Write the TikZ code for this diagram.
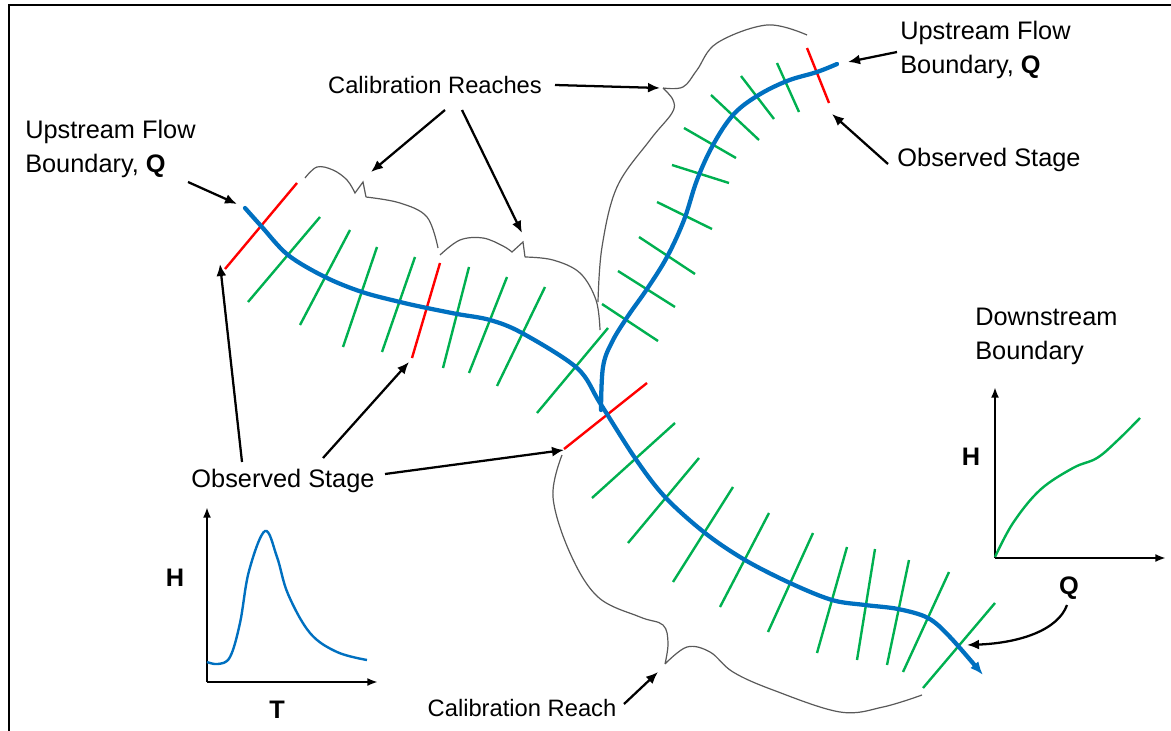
\documentclass[tikz,border=0pt]{standalone}
\usepackage{fontspec}
\setmainfont{Liberation Sans}
\usetikzlibrary{arrows.meta}
\definecolor{riv}{HTML}{0070C0}
\definecolor{grn}{HTML}{00B050}
\definecolor{rd}{HTML}{FF0000}
\definecolor{brc}{HTML}{595959}
\begin{document}
\begin{tikzpicture}[x=0.75pt,y=-0.75pt,
 lbl/.style={font=\fontsize{19}{25.5}\selectfont, inner sep=0pt, align=left},
 cal/.style={lbl, font=\fontsize{17.8}{25.5}\selectfont},
 axlbl/.style={font=\fontsize{19}{22}\selectfont\bfseries, inner sep=0pt},
 river/.style={draw=riv, line width=3.2pt, line cap=round},
 xs/.style={draw=grn, line width=1.8pt},
 obs/.style={draw=rd, line width=1.8pt},
 brace/.style={draw=brc, line width=0.9pt},
 ptr/.style={draw=black, line width=1.7pt, -{Latex[length=9pt,width=7.5pt]}},
 axis/.style={draw=black, line width=1.6pt, -{Latex[length=8pt,width=6pt]}},
]
\useasboundingbox (0,0) rectangle (1171,731);
\draw[line width=1.2pt] (9,731) -- (9,5) -- (1171,5);

% cross sections (green)
\foreach \a/\b/\c/\d in {
 248/302/320/217, 300/325/350/230, 343/347/377/247, 382/352/415/257,
 443/368/469/267, 469/373/507/277, 497/386/545/287, 537/413/608/328,
 592/498/675/423, 628/543/699/458, 673/582/733/487, 720/607/769/513,
 768/632/813/533, 817/653/847/547, 857/660/875/549, 887/665/909/560,
 903/672/949/572, 923/688/995/603,
 602/304/658/341, 618/271/675/307, 639/237/695/274, 657/202/712/229,
 672/165/729/183, 684/128/736/158, 711/95/759/140, 741/76/774/119,
 777/63/799/112}
 \draw[xs] (\a,\b) -- (\c,\d);

% observed stage (red)
\draw[obs] (225,269) -- (297,183);
\draw[obs] (412,358) -- (440,263);
\draw[obs] (564,449) -- (647,383);
\draw[obs] (807,48) -- (829,103);

% rivers
\draw[river] plot[smooth,tension=0.6] coordinates {(601,410) (603,367) (612,342) (628,316) (647,289) (667,257) (684,220) (697,180) (713,145) (733,115) (757,96) (787,81) (817,72) (837,64)};
\draw[river,-{Latex[length=10pt,width=8pt]}] plot[smooth,tension=0.55] coordinates {(245,208) (262,227) (288,255) (325,277) (362,292) (400,302) (427,308) (457,314) (490,320) (522,333) (577,368) (600,403) (635,458) (665,497) (705,533) (745,560) (790,583) (832,600) (865,605) (898,609) (928,618) (950,637) (983,675)};

% braces
\draw[brace] plot[smooth,tension=0.6] coordinates {(305,178) (317,167) (333,170) (347,180) (355,193)} -- (363,182) -- (366,197) plot[smooth,tension=0.6] coordinates {(366,197) (400,203) (427,217) (438,248)};
\draw[brace] plot[smooth,tension=0.6] coordinates {(440,255) (460,240) (483,238) (503,246) (512,252)} -- (523,242) -- (525,257) plot[smooth,tension=0.6] coordinates {(525,257) (553,260) (580,273) (596,300) (600,330)};
\draw[brace] plot[smooth,tension=0.6] coordinates {(598,302) (602,247) (617,187) (650,140) (672,113) (673,100) (663,88)} plot[smooth,tension=0.6] coordinates {(663,88) (683,87) (697,70) (717,43) (767,25) (807,35)};
\draw[brace] plot[smooth,tension=0.6] coordinates {(562,455) (553,497) (570,553) (598,597) (640,617) (663,625) (668,643) (665,664)} plot[smooth,tension=0.6] coordinates {(665,664) (687,647) (710,652) (733,672) (773,690) (840,712) (883,707) (922,695)};

% labels
\node[lbl, anchor=west] (upL) at (25,149) {Upstream Flow\\Boundary, \textbf{Q}};
\node[cal] (calR) at (435,85) {Calibration Reaches};
\node[lbl, anchor=west] (upR) at (900,50) {Upstream Flow\\Boundary, \textbf{Q}};
\node[lbl] (obsR) at (989,160) {Observed Stage};
\node[lbl, anchor=west] (down) at (975,336) {Downstream\\Boundary};
\node[lbl] (obsL) at (283,481) {Observed Stage};
\node[cal] (calS) at (522,708) {Calibration Reach};

% pointers
\draw[ptr] (188,182) -- (237,204);
\draw[ptr] (445,110) -- (371,172);
\draw[ptr] (462,110) -- (522,233);
\draw[ptr] (555,85) -- (660,88);
\draw[ptr] (897,52) -- (848,62);
\draw[ptr] (888,164) -- (832,114);
\draw[ptr] (242,462) -- (220,264);
\draw[ptr] (323,458) -- (409,362);
\draw[ptr] (385,474) -- (564,450);
\draw[ptr] (624,704) -- (658,672);
\draw[ptr] (1067,605) .. controls (1058,630) and (1020,643) .. (967,645);

% hydrograph
\coordinate (o1) at (207,682);
\draw[axis] (o1) -- (207,507);
\draw[axis] (o1) -- (378,682);
\draw[draw=riv, line width=1.8pt] plot[smooth,tension=0.6] coordinates {(207,662) (218,664) (230,657) (240,623) (249,571) (265,531) (277,557) (288,594) (310,633) (337,652) (367,660)};
\node[axlbl] (h1) at (175,578) {H};
\node[axlbl] (t1) at (277,710) {T};

% rating curve
\coordinate (o2) at (995,558);
\draw[axis] (o2) -- (995,387);
\draw[axis] (o2) -- (1166,558);
\draw[draw=grn, line width=1.8pt] plot[smooth,tension=0.6] coordinates {(995,557) (1013,523) (1040,490) (1073,468) (1097,458) (1118,440) (1140,418)};
\node[axlbl] (h2) at (971,457) {H};
\node[axlbl] (q2) at (1069,588) {Q};
\end{tikzpicture}
\end{document}
